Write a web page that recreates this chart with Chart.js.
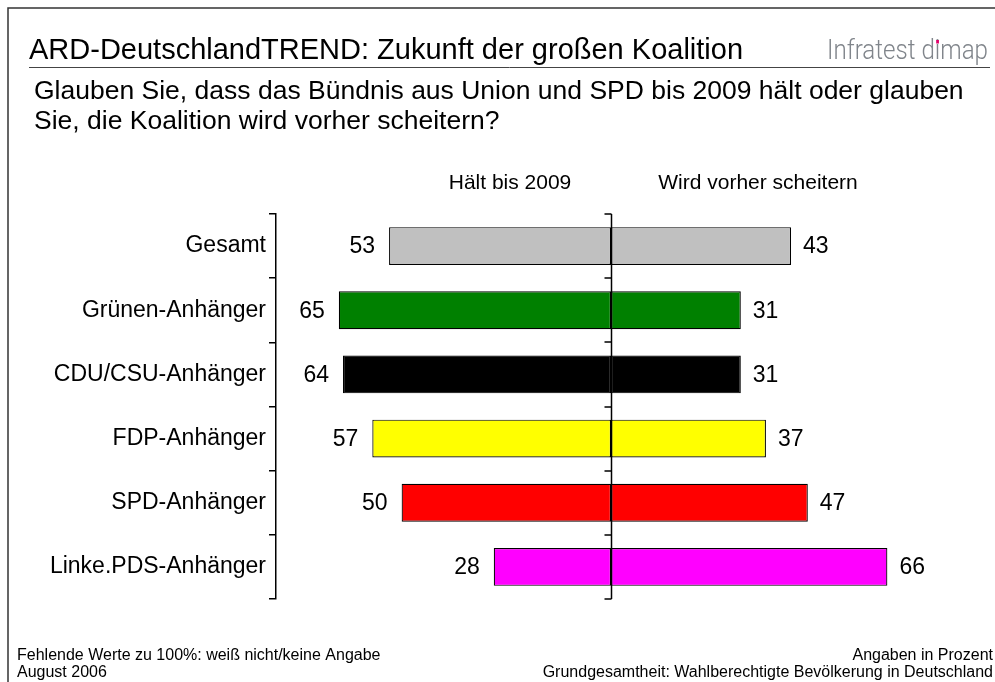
<!DOCTYPE html>
<html>
<head>
<meta charset="utf-8">
<script src="https://cdn.jsdelivr.net/npm/chart.js@4"></script>
<style>
  body { margin: 0; background: #fff; }
  canvas { display: block; }
</style>
</head>
<body>
<canvas id="chart" width="995" height="682"></canvas>
<script>
const categories = ["Gesamt", "Grünen-Anhänger", "CDU/CSU-Anhänger", "FDP-Anhänger", "SPD-Anhänger", "Linke.PDS-Anhänger"];
const haeltBis2009 = [53, 65, 64, 57, 50, 28];
const wirdScheitern = [43, 31, 31, 37, 47, 66];
const barColors = ["#c0c0c0", "#008000", "#000000", "#ffff00", "#ff0000", "#ff00ff"];

const FONT = "'Liberation Sans', Arial, sans-serif";

// texts, frame and value labels around the plot
const decorPlugin = {
    id: 'decor',
    beforeDraw(chart) {
        const ctx = chart.ctx;
        ctx.save();
        ctx.fillStyle = '#fff';
        ctx.fillRect(0, 0, chart.width, chart.height);
        ctx.restore();
    },
    afterDraw(chart) {
        const { ctx, chartArea: { top, bottom }, scales: { x, y } } = chart;
        ctx.save();

        // frame
        ctx.strokeStyle = '#333';
        ctx.lineWidth = 1.5;
        ctx.beginPath();
        ctx.moveTo(8, 682);
        ctx.lineTo(8, 8);
        ctx.lineTo(995, 8);
        ctx.stroke();

        // title + rule
        ctx.fillStyle = '#000';
        ctx.textBaseline = 'alphabetic';
        ctx.textAlign = 'left';
        ctx.font = '29px ' + FONT;
        ctx.fillText('ARD-DeutschlandTREND: Zukunft der großen Koalition', 29, 59);
        ctx.strokeStyle = '#444';
        ctx.lineWidth = 1;
        ctx.beginPath();
        ctx.moveTo(29, 67.5);
        ctx.lineTo(990, 67.5);
        ctx.stroke();

        // logo text
        ctx.font = '300 28px Roboto';
        const logo = 'Infratest dimap';
        const lw = ctx.measureText(logo).width;
        const sx = 161 / lw;
        ctx.save();
        ctx.translate(988 - 161, 59);
        ctx.scale(sx, 1);
        ctx.fillStyle = '#80858b';
        ctx.fillText(logo, 0, 0);
        // pink dot on the i of dimap
        const pre = ctx.measureText('Infratest d').width;
        const iw = ctx.measureText('i').width;
        ctx.fillStyle = '#e0006a';
        ctx.fillRect(pre + iw / 2 - 1.6, -19, 3.2, 3.5);
        ctx.restore();

        // question
        ctx.fillStyle = '#000';
        ctx.font = '26.5px ' + FONT;
        ctx.fillText('Glauben Sie, dass das Bündnis aus Union und SPD bis 2009 hält oder glauben', 34, 99);
        ctx.fillText('Sie, die Koalition wird vorher scheitern?', 34, 129);

        // column headers
        ctx.font = '21px ' + FONT;
        ctx.textAlign = 'center';
        ctx.textBaseline = 'middle';
        ctx.fillText('Hält bis 2009', 510, 183);
        ctx.fillText('Wird vorher scheitern', 758, 183);

        // centre line with ticks
        const cx = Math.round(x.getPixelForValue(0)) + 0.5;
        ctx.strokeStyle = '#000';
        ctx.lineWidth = 1.5;
        ctx.beginPath();
        ctx.moveTo(cx, top);
        ctx.lineTo(cx, bottom);
        const marks = [top, bottom];
        for (let i = 0; i < categories.length - 1; i++) {
            marks.push((y.getPixelForValue(i) + y.getPixelForValue(i + 1)) / 2);
        }
        marks.forEach(m => {
            ctx.moveTo(cx - 7, Math.round(m));
            ctx.lineTo(cx, Math.round(m));
        });
        ctx.stroke();

        // value labels
        ctx.font = '23px ' + FONT;
        ctx.fillStyle = '#000';
        categories.forEach((c, i) => {
            const yc = y.getPixelForValue(i) + 1;
            ctx.textAlign = 'right';
            ctx.fillText(String(haeltBis2009[i]), x.getPixelForValue(-haeltBis2009[i]) - 14, yc);
            ctx.textAlign = 'left';
            ctx.fillText(String(wirdScheitern[i]), x.getPixelForValue(wirdScheitern[i]) + 12, yc);
        });

        // footer
        ctx.font = '16px ' + FONT;
        ctx.textBaseline = 'alphabetic';
        ctx.textAlign = 'left';
        ctx.fillText('Fehlende Werte zu 100%: weiß nicht/keine Angabe', 17, 660);
        ctx.fillText('August 2006', 17, 677);
        ctx.textAlign = 'right';
        ctx.fillText('Angaben in Prozent', 993, 660);
        ctx.fillText('Grundgesamtheit: Wahlberechtigte Bevölkerung in Deutschland', 993, 677);

        ctx.restore();
    }
};

new Chart(document.getElementById('chart'), {
    type: 'bar',
    data: {
        labels: categories,
        datasets: [
            {
                label: 'Hält bis 2009',
                data: haeltBis2009.map(v => -v),
                backgroundColor: barColors,
                borderColor: '#000',
                borderWidth: 1.2,
                borderSkipped: false,
                barPercentage: 0.59,
                categoryPercentage: 1.0
            },
            {
                label: 'Wird vorher scheitern',
                data: wirdScheitern,
                backgroundColor: barColors,
                borderColor: '#000',
                borderWidth: 1.2,
                borderSkipped: false,
                barPercentage: 0.59,
                categoryPercentage: 1.0
            }
        ]
    },
    options: {
        indexAxis: 'y',
        responsive: false,
        animation: false,
        layout: { padding: { top: 214, bottom: 83, left: 0, right: 49 } },
        plugins: {
            legend: { display: false },
            tooltip: { enabled: false },
            title: { display: false }
        },
        scales: {
            x: {
                display: false,
                stacked: true,
                min: -80,
                max: 80
            },
            y: {
                stacked: true,
                position: 'left',
                afterFit(scale) { scale.width = 276; },
                grid: {
                    offset: true,
                    drawOnChartArea: false,
                    tickLength: 7,
                    color: '#000',
                    lineWidth: 1.5
                },
                border: { display: true, color: '#000', width: 1.5 },
                ticks: {
                    color: '#000',
                    padding: 3,
                    font: { size: 23, family: FONT }
                }
            }
        }
    },
    plugins: [decorPlugin]
});
</script>
</body>
</html>
